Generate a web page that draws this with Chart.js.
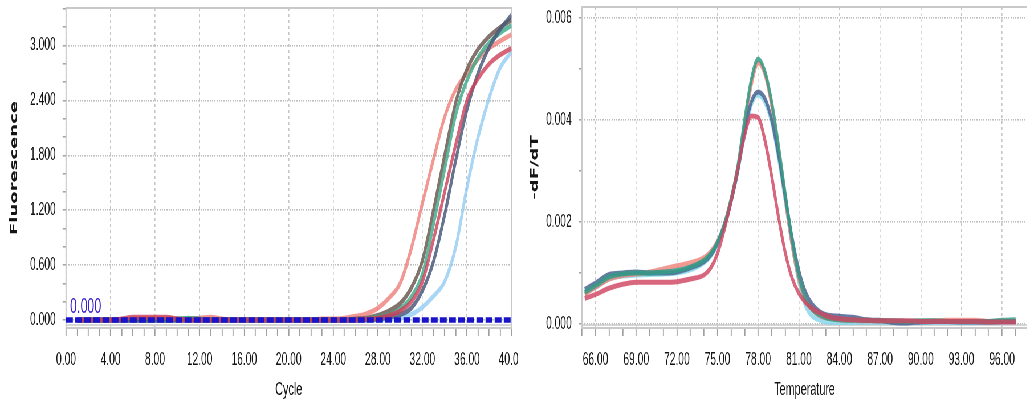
<!DOCTYPE html>
<html lang="en">
<head>
  <meta charset="UTF-8" />
  <title>Amplification and melt curves</title>
  <style>
    html, body {
      margin: 0;
      padding: 0;
      background: #fff;
      overflow: hidden;
    }
    /* the reference is squeezed horizontally, so draw wide and squeeze */
    #stage {
      position: absolute;
      left: 0;
      top: 0;
      width: 1802px;
      height: 408px;
      transform: scaleX(0.57);
      transform-origin: 0 0;
    }
    canvas {
      position: absolute;
      top: 0;
    }
    #amp { left: 0; }
    #melt { left: 910px; }
  </style>
</head>
<body>
  <div id="stage">
    <canvas id="amp" width="910" height="408"></canvas>
    <canvas id="melt" width="892" height="408"></canvas>
  </div>

  <script src="https://cdn.jsdelivr.net/npm/chart.js@4"></script>
  <script>
    // ---- amplification plot (left) ----
    const cycles = [1, 2, 3, 4, 5, 6, 7, 8, 9, 10, 11, 12, 13, 14, 15, 16, 17, 18, 19, 20,
                    21, 22, 23, 24, 25, 26, 27, 28, 29, 30, 31, 32, 33, 34, 35, 36, 37, 38, 39, 40];
    const ampSalmon  = [0, 0, 0, 0, 0, 0.01, 0.02, 0.02, 0.02, 0.01, 0.01, 0.02, 0.03, 0.01, 0, 0, 0, 0, 0, 0,
                        0, 0, 0.01, 0.01, 0.02, 0.04, 0.07, 0.13, 0.24, 0.4, 0.78, 1.28, 1.76, 2.22, 2.52, 2.7, 2.85, 2.97, 3.05, 3.12];
    const ampBrown   = [0, 0, 0, 0, 0, 0, 0, 0, 0, 0, 0, 0, 0, 0, 0, 0, 0, 0, 0, 0,
                        0, 0, 0, 0, 0, 0.01, 0.02, 0.05, 0.1, 0.18, 0.35, 0.65, 1.2, 1.8, 2.38, 2.74, 2.96, 3.1, 3.2, 3.28];
    const ampGreen   = [0, 0, 0, 0, 0, 0, 0, 0, 0, 0.01, 0.02, 0.01, 0, 0, 0, 0, 0, 0, 0, 0,
                        0, 0, 0, 0, 0, 0, 0.01, 0.03, 0.06, 0.12, 0.25, 0.5, 1.05, 1.65, 2.25, 2.62, 2.87, 3.03, 3.14, 3.22];
    const ampCrimson = [0, 0, 0, 0, 0.01, 0.03, 0.03, 0.03, 0.03, 0.01, 0, 0, 0, 0, 0, 0, 0, 0, 0, 0,
                        0, 0, 0, 0, 0, 0, 0.01, 0.02, 0.05, 0.1, 0.2, 0.42, 0.88, 1.4, 1.92, 2.4, 2.64, 2.8, 2.9, 2.97];
    const ampSlate   = [0, 0, 0, 0, 0, 0, 0, 0, 0, 0, 0, 0, 0, 0, 0, 0, 0, 0, 0, 0,
                        0, 0, 0, 0, 0, 0, 0, 0.01, 0.03, 0.06, 0.13, 0.32, 0.64, 1.15, 1.75, 2.3, 2.7, 2.98, 3.18, 3.33];
    const ampBlue    = [0, 0, 0, 0, 0, 0, 0, 0, 0, 0, 0, 0, 0, 0, 0, 0, 0, 0, 0, 0,
                        0, 0, 0, 0, 0, 0, 0, 0, 0.01, 0.02, 0.06, 0.14, 0.26, 0.42, 0.8, 1.45, 2.0, 2.43, 2.76, 2.93];
    const thresholdValue = 0;
    const thresholdRange = [0, 40];
    const ampXLabels = [0, 4, 8, 12, 16, 20, 24, 28, 32, 36, 40];
    const ampYLabels = [0, 0.6, 1.2, 1.8, 2.4, 3.0];

    // ---- melt curve (right), values in units of 0.001 ----
    const meltTemps = [65.2, 66, 67, 68, 69, 70, 71, 72, 73, 74, 74.5, 75, 75.5, 76, 76.5, 77, 77.5, 78, 78.5, 79,
                       79.5, 80, 80.5, 81, 81.5, 82, 82.5, 83, 84, 85, 86, 87, 88, 89, 90, 91, 92, 93, 94, 95, 96, 97];
    const meltTeal    = [0.62, 0.75, 0.92, 0.98, 1.0, 1.0, 1.02, 1.05, 1.12, 1.25, 1.38, 1.6, 1.95, 2.45, 3.1, 4.0, 4.8, 5.2, 4.95, 4.35,
                         3.5, 2.55, 1.65, 0.95, 0.5, 0.28, 0.18, 0.12, 0.08, 0.07, 0.07, 0.06, 0.06, 0.05, 0.06, 0.06, 0.05, 0.05, 0.05, 0.05, 0.07, 0.08];
    const meltSalmon  = [0.58, 0.72, 0.88, 0.95, 0.98, 1.02, 1.08, 1.14, 1.2, 1.3, 1.42, 1.62, 1.95, 2.45, 3.05, 3.9, 4.7, 5.12, 4.9, 4.28,
                         3.42, 2.45, 1.55, 0.88, 0.47, 0.27, 0.17, 0.12, 0.08, 0.07, 0.06, 0.06, 0.05, 0.05, 0.05, 0.06, 0.07, 0.07, 0.07, 0.05, 0.05, 0.05];
    const meltSlate   = [0.68, 0.8, 0.97, 1.0, 1.02, 1.0, 1.0, 1.02, 1.1, 1.22, 1.35, 1.58, 1.92, 2.4, 3.0, 3.8, 4.36, 4.55, 4.42, 4.0,
                         3.32, 2.5, 1.7, 1.05, 0.62, 0.38, 0.25, 0.18, 0.15, 0.13, 0.08, 0.07, 0.03, 0.02, 0.04, 0.05, 0.05, 0.04, 0.04, 0.04, 0.05, 0.05];
    const meltCrimson = [0.5, 0.58, 0.7, 0.78, 0.82, 0.82, 0.82, 0.83, 0.88, 0.96, 1.1, 1.38, 1.85, 2.4, 3.05, 3.7, 4.08, 4.05, 3.6, 2.9,
                         2.1, 1.4, 0.9, 0.6, 0.42, 0.3, 0.22, 0.16, 0.1, 0.08, 0.07, 0.06, 0.06, 0.06, 0.05, 0.05, 0.05, 0.05, 0.05, 0.04, 0.04, 0.04];
    const meltCyan    = [0.6, 0.72, 0.88, 0.94, 0.96, 0.97, 0.98, 1.0, 1.06, 1.2, 1.33, 1.55, 1.9, 2.4, 3.0, 3.7, 4.3, 4.5, 4.35, 3.95,
                         3.25, 2.4, 1.55, 0.82, 0.35, 0.15, 0.08, 0.04, 0.03, 0.03, 0.03, 0.03, 0.03, 0.03, 0.03, 0.03, 0.03, 0.03, 0.03, 0.03, 0.04, 0.04];
    const meltXLabels = [66, 69, 72, 75, 78, 81, 84, 87, 90, 93, 96];
    const meltYLabels = [0, 0.002, 0.004, 0.006];

    Chart.defaults.font.family = "'Liberation Sans', Arial, sans-serif";
    Chart.defaults.animation = false;

    const S = 0.57;              // horizontal squeeze of the stage
    const dx = v => v / S;       // picture px -> canvas px

    function stepTicks(min, max, step) {
      const out = [];
      for (let k = Math.ceil(min / step - 1e-9); k * step <= max + 1e-12; k++) {
        out.push(+(k * step).toFixed(6));
      }
      return out;
    }
    function hasTick(list, v) {
      return list.some(t => Math.abs(t - v) < 1e-9);
    }

    const plotBox = {
      id: 'plotBox',
      beforeDatasetsDraw(chart) {
        const { ctx, chartArea: a } = chart;
        ctx.save();
        ctx.strokeStyle = '#c9c9c9';
        ctx.lineWidth = 2;
        ctx.strokeRect(a.left, a.top, a.right - a.left, a.bottom - a.top);
        ctx.lineWidth = 1.5;
        ctx.beginPath();
        ctx.moveTo(a.left, a.bottom - 3);
        ctx.lineTo(a.right, a.bottom - 3);
        ctx.stroke();
        ctx.restore();
      }
    };

    const thresholdLabel = {
      id: 'thresholdLabel',
      afterDatasetsDraw(chart) {
        const { ctx, scales } = chart;
        ctx.save();
        ctx.fillStyle = '#3a22d0';
        ctx.font = "22px 'Liberation Sans', Arial, sans-serif";
        ctx.textBaseline = 'bottom';
        ctx.fillText(thresholdValue.toFixed(3),
          scales.x.getPixelForValue(thresholdRange[0]) + 7,
          scales.y.getPixelForValue(thresholdValue) - 2);
        ctx.restore();
      }
    };

    function axes(o) {
      return {
        x: {
          type: 'linear',
          min: o.xMin,
          max: o.xMax,
          afterBuildTicks: s => { s.ticks = stepTicks(o.xMin, o.xMax, 1).map(v => ({ value: v })); },
          afterFit: s => { s.height = 80; s.paddingLeft = 0; s.paddingRight = 0; },
          ticks: {
            autoSkip: false,
            maxRotation: 0,
            padding: 13,
            color: '#141414',
            font: { size: 18 },
            callback: v => hasTick(o.xLabels, v) ? v.toFixed(2) : ''
          },
          grid: {
            color: c => hasTick(o.xLabels, c.tick.value) ? '#c6c6c6' : 'rgba(0,0,0,0)',
            lineWidth: 1.6,
            tickColor: '#a0a0a0',
            tickLength: 8,
            tickWidth: 1.8
          },
          border: { display: false, dash: [3, 3] },
          title: {
            display: true,
            text: o.xTitle,
            color: '#141414',
            font: { size: 19 },
            padding: { top: 0, bottom: 7 }
          }
        },
        y: {
          type: 'linear',
          min: o.yMin,
          max: o.yMax,
          afterBuildTicks: s => { s.ticks = stepTicks(0, o.yTop, o.yStep).map(v => ({ value: v })); },
          afterFit: s => { s.width = o.yWidth; s.paddingTop = 0; s.paddingBottom = 0; },
          ticks: {
            autoSkip: false,
            padding: 12,
            color: '#141414',
            font: { size: 18 },
            callback: v => hasTick(o.yLabels, v) ? v.toFixed(3) : ''
          },
          grid: {
            color: c => hasTick(o.yLabels, c.tick.value) ? '#bdbdbd' : 'rgba(0,0,0,0)',
            lineWidth: 1.6,
            tickColor: '#a0a0a0',
            tickLength: 6,
            tickWidth: 1.5
          },
          border: { display: false, dash: [2, 2] },
          title: {
            display: true,
            text: o.yTitle,
            color: '#141414',
            font: { family: "'DejaVu Sans', sans-serif", size: 18, weight: 'bold' },
            padding: { top: o.yTitlePad, bottom: 0 }
          }
        }
      };
    }

    function line(xs, ys, color, width, unit) {
      return {
        data: xs.map((x, i) => ({ x: x, y: ys[i] * unit })),
        borderColor: color,
        borderWidth: width,
        pointRadius: 0,
        cubicInterpolationMode: 'monotone',
        fill: false
      };
    }

    // left: amplification
    new Chart(document.getElementById('amp'), {
      type: 'line',
      data: {
        datasets: [
          {
            data: thresholdRange.map(x => ({ x: x, y: thresholdValue })),
            borderColor: '#1a14c8',
            borderWidth: 5.5,
            borderDash: [12, 4],
            pointRadius: 0
          },
          line(cycles, ampCrimson, 'rgba(204,62,88,0.8)', 5, 1),
          line(cycles, ampSlate, 'rgba(70,86,120,0.82)', 5, 1),
          line(cycles, ampGreen, 'rgba(58,166,132,0.8)', 5, 1),
          line(cycles, ampBrown, 'rgba(108,90,84,0.85)', 5, 1),
          line(cycles, ampSalmon, 'rgba(238,118,112,0.75)', 5, 1),
          line(cycles, ampBlue, 'rgba(140,200,240,0.75)', 5, 1)
        ]
      },
      options: {
        responsive: false,
        layout: { padding: { top: 8, right: 910 - dx(511.5), bottom: 0, left: 0 } },
        plugins: { legend: { display: false }, tooltip: { enabled: false } },
        scales: axes({
          xMin: 0, xMax: 40, xLabels: ampXLabels, xTitle: 'Cycle',
          yMin: -0.0875, yMax: 3.41, yTop: 3.4, yStep: 0.2, yLabels: ampYLabels,
          yWidth: dx(66), yTitle: 'Fluorescence', yTitlePad: 15
        })
      },
      plugins: [plotBox, thresholdLabel]
    });

    // right: melt curve
    new Chart(document.getElementById('melt'), {
      type: 'line',
      data: {
        datasets: [
          line(meltTemps, meltCrimson, 'rgba(208,70,98,0.82)', 5, 0.001),
          line(meltTemps, meltTeal, 'rgba(52,156,134,0.85)', 5, 0.001),
          line(meltTemps, meltSlate, 'rgba(76,100,146,0.85)', 5, 0.001),
          line(meltTemps, meltSalmon, 'rgba(240,128,118,0.8)', 5, 0.001),
          line(meltTemps, meltCyan, 'rgba(130,212,234,0.8)', 5, 0.001)
        ]
      },
      options: {
        responsive: false,
        layout: { padding: { top: 7, right: 0, bottom: 0, left: 0 } },
        plugins: { legend: { display: false }, tooltip: { enabled: false } },
        scales: axes({
          xMin: 65.0, xMax: 97.85, xLabels: meltXLabels, xTitle: 'Temperature',
          yMin: -0.00008, yMax: 0.00622, yTop: 0.006, yStep: 0.001, yLabels: meltYLabels,
          yWidth: dx(582) - 910, yTitle: '-dF/dT', yTitlePad: 18
        })
      },
      plugins: [plotBox]
    });
  </script>
</body>
</html>
